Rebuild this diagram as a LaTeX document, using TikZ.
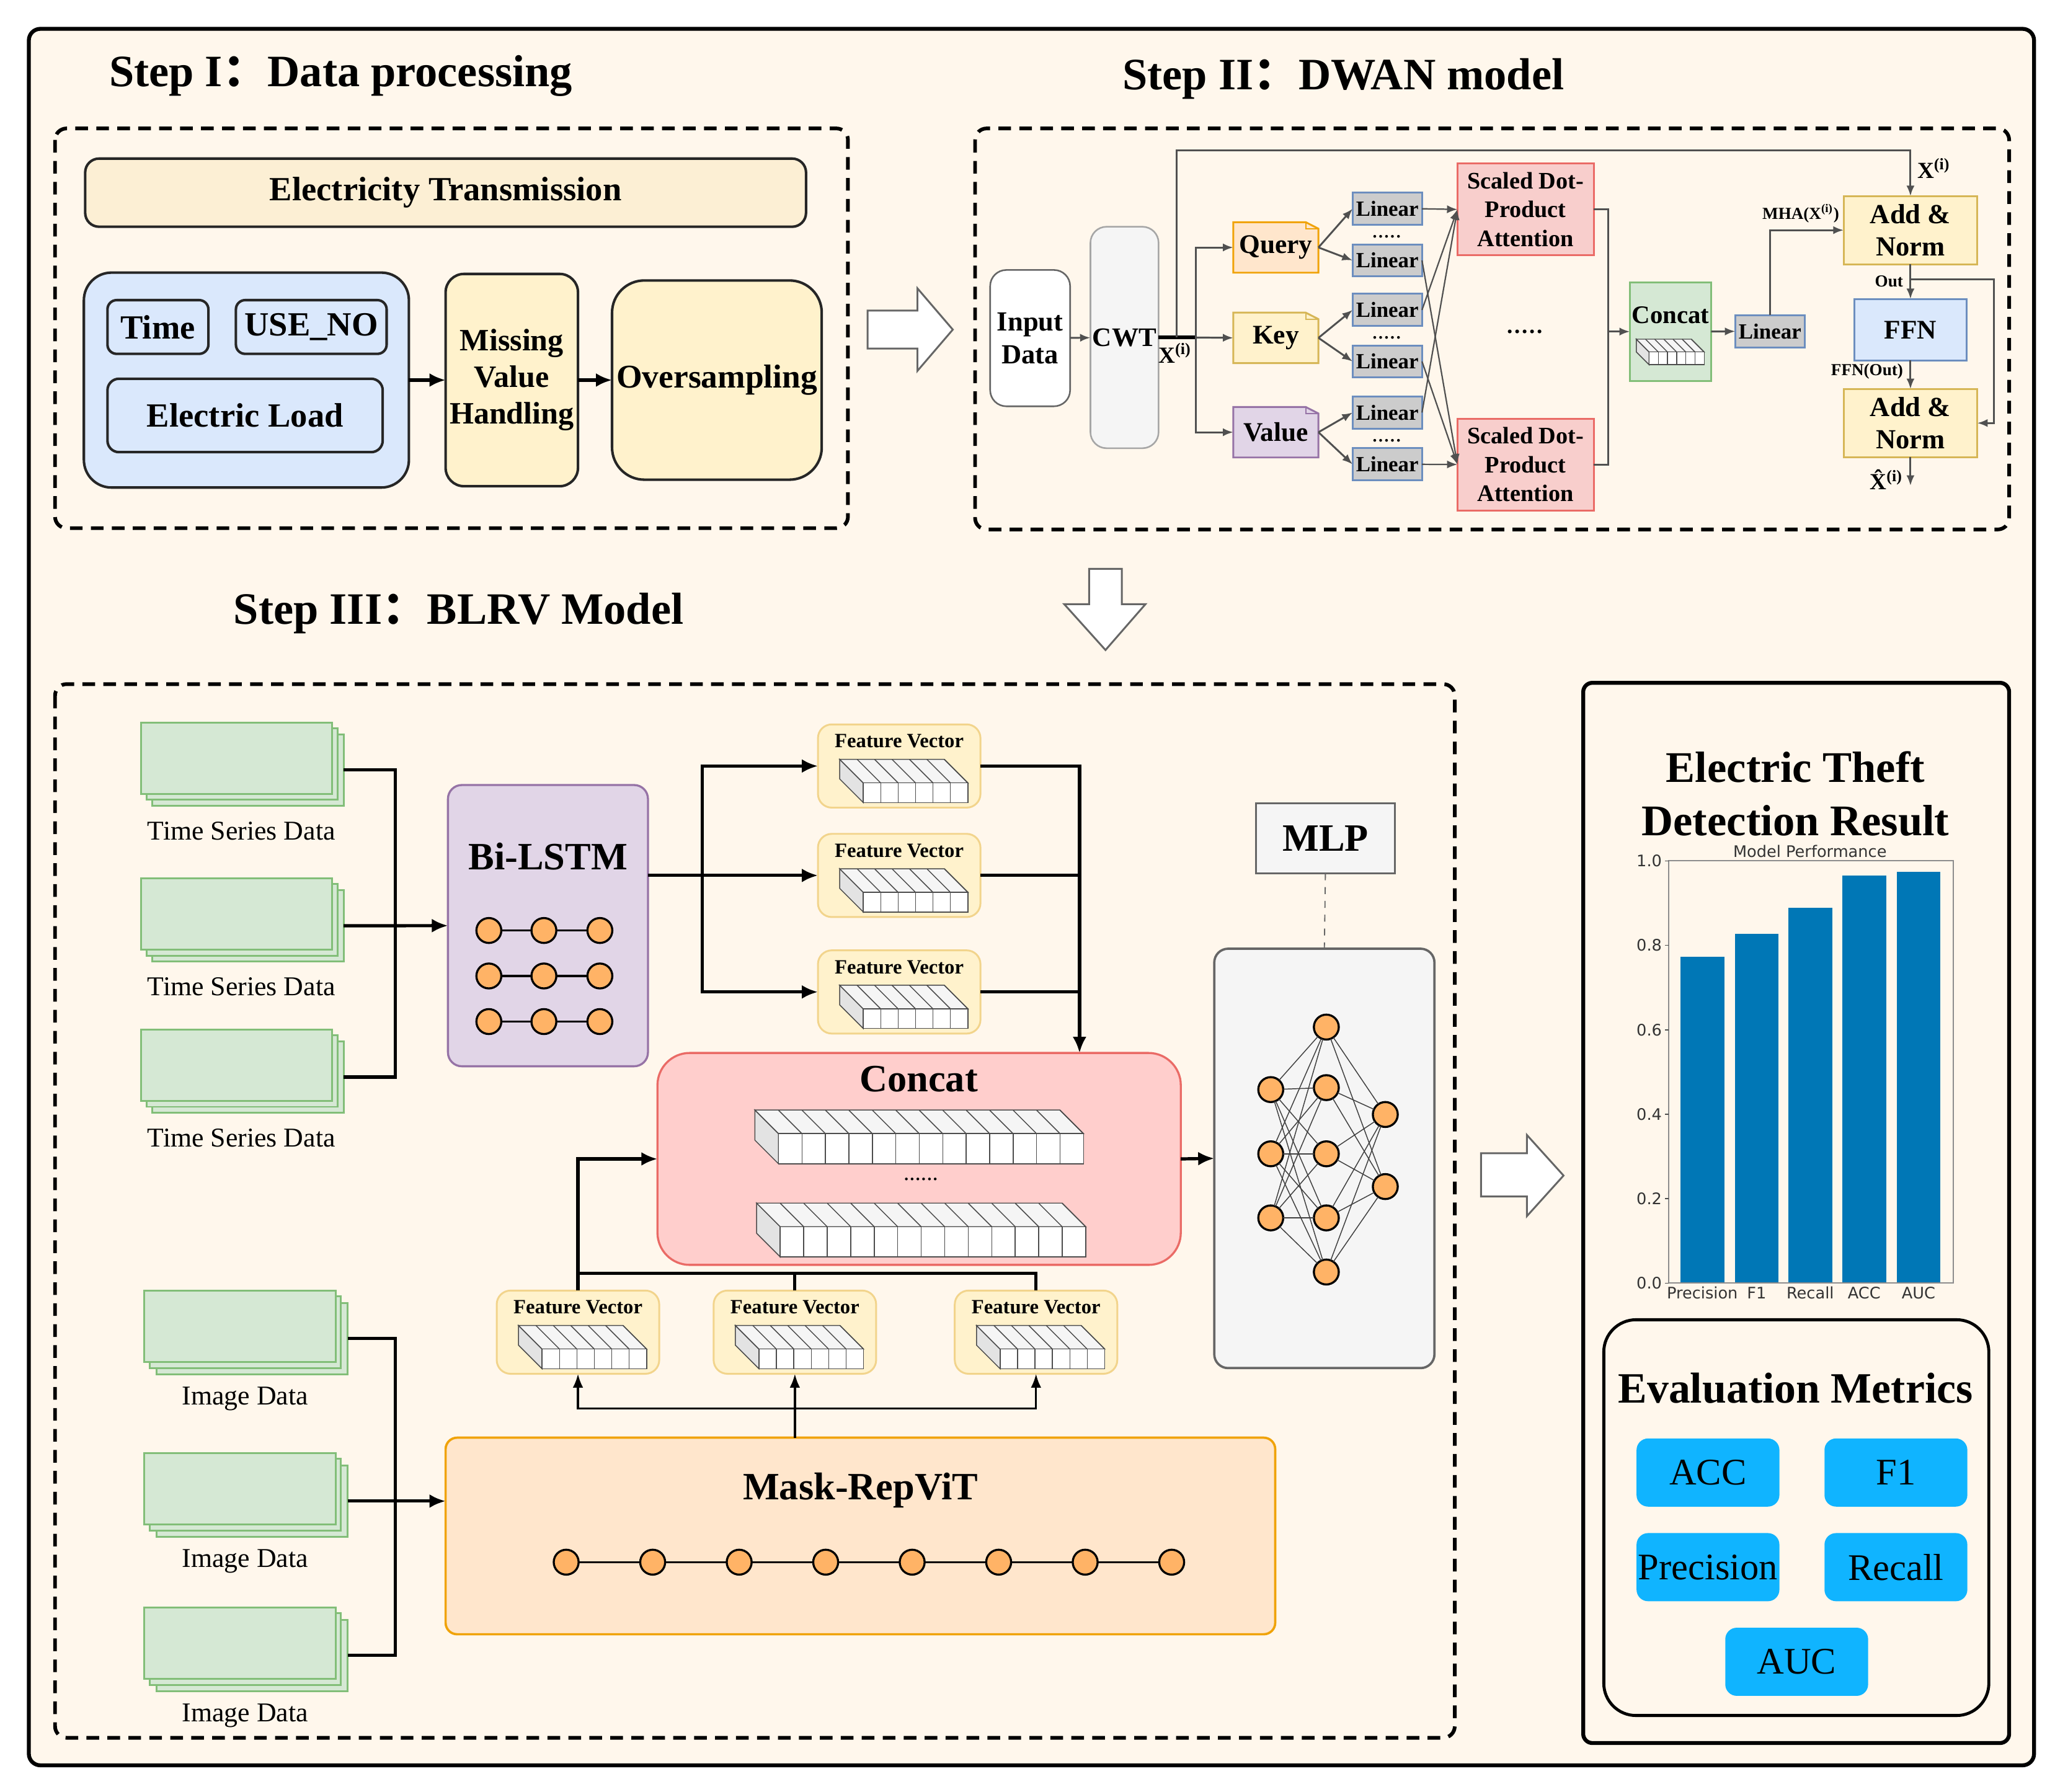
\documentclass[tikz,border=0pt]{standalone}
\usepackage{fontspec}
\setmainfont{Liberation Serif}
\newfontfamily\cjk{Noto Sans CJK SC}
\newfontfamily\plotfont{DejaVu Sans}
\usetikzlibrary{positioning,calc,arrows.meta}

\definecolor{bgcream}{RGB}{255,247,236}
\definecolor{etfill}{RGB}{252,239,212}
\definecolor{ylwfill}{RGB}{255,242,204}
\definecolor{ylwdraw}{RGB}{214,182,86}
\definecolor{bluefill}{RGB}{218,232,252}
\definecolor{bluedraw}{RGB}{108,142,191}
\definecolor{orgfill}{RGB}{255,230,204}
\definecolor{orgdraw}{RGB}{240,163,10}
\definecolor{purfill}{RGB}{225,213,231}
\definecolor{purdraw}{RGB}{150,115,166}
\definecolor{redfill}{RGB}{248,206,204}
\definecolor{reddraw}{RGB}{234,107,102}
\definecolor{grnfill}{RGB}{213,232,212}
\definecolor{grndraw}{RGB}{130,190,120}
\definecolor{greyfill}{RGB}{245,245,245}
\definecolor{greydraw}{RGB}{102,102,102}
\definecolor{linfill}{RGB}{204,204,204}
\definecolor{linkgrey}{RGB}{80,80,80}
\definecolor{pinkfill}{RGB}{255,206,204}
\definecolor{fvdraw}{RGB}{242,212,140}
\definecolor{neufill}{RGB}{255,179,102}
\definecolor{metfill}{RGB}{16,180,255}
\definecolor{barblue}{RGB}{0,119,182}

\newcommand{\pxu}{0.02cm}
\newcommand{\fsz}[2]{\fontsize{#1}{#2}\selectfont}
\newcommand{\fivedots}{.\kern0.7pt.\kern0.7pt.\kern0.7pt.\kern0.7pt.}

% stacked cells: front lower left (#1,#2), #3 cells, cell width #4, height #5, depth #6
\newcommand{\cellvec}[6]{%
  \filldraw[draw=black!70, fill=gray!22, line width=0.4pt] (#1,#2) -- (#1,#2-#5) -- (#1-#6,#2-#5-#6) -- (#1-#6,#2-#6) -- cycle;
  \filldraw[draw=black!70, fill=gray!8, line width=0.4pt] (#1,#2-#5) -- (#1+#3*#4,#2-#5) -- (#1+#3*#4-#6,#2-#5-#6) -- (#1-#6,#2-#5-#6) -- cycle;
  \foreach \k in {1,...,#3} {
    \filldraw[draw=black!70, fill=white, line width=0.4pt] (#1+\k*#4-#4,#2) rectangle (#1+\k*#4,#2-#5);
    \draw[black!70, line width=0.4pt] (#1+\k*#4,#2-#5) -- (#1+\k*#4-#6,#2-#5-#6);
  }
}
% feature vector box
\newcommand{\featvec}[3]{%
  \node[fvbox] (#1) at (#2,#3) {};
  \node[fvtxt] (#1t) at (#2,#3-19) {Feature Vector};
  \cellvec{#2-27.4}{#3+27.9}{6}{13.3}{15}{18}
}
% note outline with folded corner: centre (#1,#2), fill #3, border #4
\newcommand{\noteshape}[4]{%
  \filldraw[fill=#3, draw=#4, line width=0.8pt] (#1-32.5,#2-19.25) -- (#1+22.8,#2-19.25) -- (#1+32.5,#2-14.3) -- (#1+32.5,#2+19.25) -- (#1-32.5,#2+19.25) -- cycle;
  \draw[#4, line width=0.6pt] (#1+22.8,#2-19.25) -- (#1+22.8,#2-14.3) -- (#1+32.5,#2-14.3);
}

\begin{document}
\begin{tikzpicture}[x=0.02cm, y=-0.02cm,
    every node/.style={inner sep=0pt, outer sep=0pt},
    titletxt/.style={font={\bfseries\fsz{19.5}{23}}},
    dashframe/.style={draw, line width=1.6pt, dash pattern=on 5.5pt off 3.6pt, rounded corners=5pt},
    prebox/.style={draw=black!85, line width=1.1pt, rounded corners=6pt, align=center, font={\bfseries\fsz{14.7}{17}}},
    mbox/.style={draw=greydraw, line width=0.7pt, align=center, font={\bfseries\fsz{12}{14.2}}},
    qkvtxt/.style={minimum width=65*\pxu, minimum height=38.5*\pxu, font={\bfseries\fsz{11.7}{14}}},
    linbox/.style={draw=bluedraw, fill=linfill, line width=0.8pt, minimum width=53*\pxu, minimum height=24.5*\pxu, font={\bfseries\fsz{9.4}{11}}},
    sdpabox/.style={draw=reddraw, fill=redfill, line width=0.8pt, minimum width=104*\pxu, minimum height=70*\pxu, align=center, font={\bfseries\fsz{10.3}{12.5}}},
    anbox/.style={draw=ylwdraw, fill=ylwfill, line width=0.8pt, minimum width=102*\pxu, minimum height=52*\pxu, align=center, font={\bfseries\fsz{12}{14.2}}},
    dottxt/.style={font={\bfseries\fsz{7.5}{8}}},
    tinytxt/.style={font={\bfseries\fsz{7.3}{8}}},
    xlab/.style={font={\bfseries\fsz{10}{12}}},
    link/.style={draw=linkgrey, line width=0.8pt},
    arr/.style={link, -{Latex[length=4.5pt,width=3.5pt]}},
    medarr/.style={line width=0.9pt, -{Latex[length=6pt,width=4.5pt]}},
    thickarr/.style={line width=1.4pt, -{Latex[length=7pt,width=6pt]}},
    thickline/.style={line width=1.4pt},
    stackbox/.style={draw=grndraw, fill=grnfill, line width=0.8pt, minimum width=146*\pxu, minimum height=54.5*\pxu},
    datatxt/.style={font={\fsz{11.8}{14}}},
    fvbox/.style={draw=fvdraw, fill=ylwfill, line width=0.8pt, rounded corners=6pt, minimum width=124*\pxu, minimum height=63.5*\pxu},
    fvtxt/.style={font={\bfseries\fsz{8.8}{10}}},
    neuron/.style={circle, draw=black, fill=neufill, line width=0.9pt, minimum size=19*\pxu},
    bigtxt/.style={font={\bfseries\fsz{16.8}{20}}},
    metbox/.style={fill=metfill, rounded corners=5pt, minimum width=109*\pxu, minimum height=52*\pxu, font={\fsz{16.3}{19}}},
    plotlab/.style={font={\plotfont\fsz{6.9}{8}}, text=black!80},
    hollow/.style={draw=greydraw, fill=white, line width=0.8pt, line join=miter}
  ]
  % Canvas
  \fill[white] (0,0) rectangle (1568,1367);
  \useasboundingbox (0,0) rectangle (1568,1367);
  \draw[fill=bgcream, line width=1.7pt, rounded corners=5pt] (22,22) rectangle (1552,1347);

  % Step I
  \node[titletxt] (steponett) at (260,58) {Step I{\cjk ：}Data processing};
  \draw[dashframe] (42,98) rectangle (647,403);
  \node[prebox, fill=etfill, minimum width=550*\pxu, minimum height=52*\pxu] (etrans) at (340,147) {Electricity Transmission};
  \node[prebox, fill=bluefill, rounded corners=12pt, minimum width=248*\pxu, minimum height=164*\pxu] (rawdata) at (188,290) {};
  \node[prebox, fill=bluefill, rounded corners=4pt, minimum width=77*\pxu, minimum height=41*\pxu] (timef) at (120.5,249.5) {Time};
  \node[prebox, fill=bluefill, rounded corners=4pt, minimum width=115*\pxu, minimum height=41*\pxu] (usenof) at (237.5,249.5) {USE\_NO};
  \node[prebox, fill=bluefill, rounded corners=5pt, minimum width=210*\pxu, minimum height=56*\pxu] (loadf) at (187,317) {Electric Load};
  \node[prebox, fill=ylwfill, rounded corners=8pt, minimum width=101*\pxu, minimum height=162*\pxu, font={\bfseries\fsz{13.5}{15.9}}] (missing) at (390.5,290) {Missing\\Value\\Handling};
  \node[prebox, fill=ylwfill, rounded corners=14pt, minimum width=160*\pxu, minimum height=152*\pxu, font={\bfseries\fsz{14.4}{17}}] (oversamp) at (547,290) {Oversampling};
  \draw[thickarr] (rawdata) -- (missing);
  \draw[thickarr] (missing) -- (oversamp);

  % Step I to Step II
  \draw[hollow] (662,237) -- (700,237) -- (700,220) -- (727,251.5) -- (700,283) -- (700,266) -- (662,266) -- cycle;

  % Step II
  \node[titletxt] (steptwott) at (1025,60) {Step II{\cjk ：}DWAN model};
  \draw[dashframe] (744,98) rectangle (1533,404);
  \node[mbox, fill=white, rounded corners=7pt, minimum width=61*\pxu, minimum height=104*\pxu] (indata) at (786,258) {Input\\Data};
  \node[mbox, fill=greyfill, draw=black!35, rounded corners=7pt, minimum width=52*\pxu, minimum height=169*\pxu, font={\bfseries\fsz{11.6}{14}}] (cwt) at (858,257.5) {CWT};
  \draw[arr] (indata) -- (cwt);
  \coordinate (xsplit) at (897.6,257.5);
  \coordinate (qkvsplit) at (912.5,257.5);
  \noteshape{973.5}{188.8}{orgfill}{orgdraw}
  \noteshape{973.5}{257.8}{ylwfill}{ylwdraw}
  \noteshape{973.5}{329.8}{purfill}{purdraw}
  \node[qkvtxt] (query) at (973.5,188.8) {Query};
  \node[qkvtxt] (key) at (973.5,257.8) {Key};
  \node[qkvtxt] (value) at (973.5,329.8) {Value};
  \draw[link, line width=1.6pt, black] (cwt.east) -- (qkvsplit);
  \draw[arr] (qkvsplit) -- (key.west);
  \draw[arr] (qkvsplit) |- (query.west);
  \draw[arr] (qkvsplit) |- (value.west);
  \node[xlab, anchor=north west] (xilab) at (884,262) {X\textsuperscript{(i)}};

  % Linear projections
  \node[linbox] (lin1) at (1058.5,159.3) {Linear};
  \node[linbox] (lin2) at (1058.5,198.7) {Linear};
  \node[linbox] (lin3) at (1058.5,236.5) {Linear};
  \node[linbox] (lin4) at (1058.5,275.8) {Linear};
  \node[linbox] (lin5) at (1058.5,314.8) {Linear};
  \node[linbox] (lin6) at (1058.5,354.3) {Linear};
  \node[dottxt] (lindots1) at (1058,180.5) {\fivedots};
  \node[dottxt] (lindots2) at (1058,257.5) {\fivedots};
  \node[dottxt] (lindots3) at (1058,336) {\fivedots};
  \draw[arr] (query.east) -- (lin1.west);
  \draw[arr] (query.east) -- (lin2.west);
  \draw[arr] (key.east) -- (lin3.west);
  \draw[arr] (key.east) -- (lin4.west);
  \draw[arr] (value.east) -- (lin5.west);
  \draw[arr] (value.east) -- (lin6.west);

  % Attention heads
  \node[sdpabox] (sdpa1) at (1164,159.8) {Scaled Dot-\\Product\\Attention};
  \node[sdpabox] (sdpa2) at (1164,354.4) {Scaled Dot-\\Product\\Attention};
  \node[font={\bfseries\fsz{10}{12}}] (sddots) at (1163.5,253) {\fivedots};
  \foreach \l in {1,3,5} \draw[arr, line width=0.6pt] (lin\l.east) -- (sdpa1.west);
  \foreach \l in {2,4,6} \draw[arr, line width=0.6pt] (lin\l.east) -- (sdpa2.west);
  \coordinate (sdjoin) at (1227.2,253);
  \draw[link] (sdpa1.east) -| (sdjoin);
  \draw[link] (sdpa2.east) -| (sdjoin);
  \node[draw=grndraw, fill=grnfill, line width=0.8pt, minimum width=62*\pxu, minimum height=75.3*\pxu] (catqkv) at (1274.6,253) {};
  \draw[arr] (sdjoin) -- (catqkv.west);
  \node[font={\bfseries\fsz{11}{13}}] (catqkvt) at (1274.6,240.3) {Concat};
  \cellvec{1258.3}{278.3}{6}{7}{9.7}{9.8}
  \node[linbox] (linout) at (1350.5,252.8) {Linear};
  \draw[arr] (catqkv.east) -- (linout.west);

  % Add & Norm, FFN
  \node[anbox] (addnorm1) at (1457.7,175.6) {Add \&\\Norm};
  \node[draw=bluedraw, fill=bluefill, line width=0.8pt, minimum width=86*\pxu, minimum height=47*\pxu, font={\bfseries\fsz{11.7}{14}}] (ffn) at (1457.7,251.6) {FFN};
  \node[anbox] (addnorm2) at (1457.7,322.8) {Add \&\\Norm};
  \draw[arr] (linout.north) |- (addnorm1.west);
  \node[tinytxt, anchor=south] (mhalab) at (1374,170) {MHA(X\textsuperscript{(i)})};
  \draw[arr] (xsplit) -- (897.6,114.5) -| (addnorm1.north);
  \node[xlab, anchor=west] (xitop) at (1463,128.5) {X\textsuperscript{(i)}};
  \draw[arr] (addnorm1.south) -- (ffn.north);
  \coordinate (outsplit) at (1457.7,213.2);
  \draw[arr] (outsplit) -- (1521.5,213.2) |- (addnorm2.east);
  \node[tinytxt, anchor=east] (outlab) at (1452,214.6) {Out};
  \draw[arr] (ffn.south) -- (addnorm2.north);
  \node[tinytxt, anchor=east] (ffnlab) at (1452,283.4) {FFN(Out)};
  \coordinate (xhatend) at (1457.7,370.6);
  \draw[arr] (addnorm2.south) -- (xhatend);
  \node[xlab, anchor=east] (xhatlab) at (1452,366) {\^{X}\textsuperscript{(i)}};

  % Step II to Step III
  \draw[hollow] (831,434) -- (856,434) -- (856,461) -- (874,461) -- (843.5,496) -- (812,461) -- (831,461) -- cycle;

  % Step III
  \node[titletxt] (stepthreett) at (350,468) {Step III{\cjk ：}BLRV Model};
  \draw[dashframe] (42,522) rectangle (1110,1326);

  % Time series inputs
  \foreach \n/\yc in {1/578.5,2/697.4,3/812.8}{
    \node[stackbox] (tsc\n) at (189.2,\yc+9) {};
    \node[stackbox] (tsb\n) at (184.8,\yc+4.5) {};
    \node[stackbox] (ts\n) at (180.5,\yc) {};
    \node[datatxt] (tsl\n) at (184.2,\yc+55.5) {Time Series Data};
  }
  \coordinate (tsjoin) at (301.6,706.4);
  \draw[thickline] (tsc1.east) -| (tsjoin);
  \draw[thickline] (tsc3.east) -| (tsjoin);

  % Bi-LSTM
  \node[draw=purdraw, fill=purfill, line width=0.9pt, rounded corners=6pt, minimum width=152.6*\pxu, minimum height=214.6*\pxu] (bilstm) at (418.1,706.3) {};
  \draw[thickarr] (tsc2.east) -- (bilstm.west);
  \node[bigtxt] (bilstmt) at (418.1,653.5) {Bi-LSTM};
  \foreach \r/\yy in {1/710,2/744.7,3/779.5}{
    \foreach \c/\xx in {1/373,2/415,3/457.7} \node[neuron] (bl\r\c) at (\xx,\yy) {};
    \draw[line width=0.9pt] (bl\r1) -- (bl\r2) (bl\r2) -- (bl\r3);
  }

  % Sequence features
  \featvec{fv1}{686.1}{584.5}
  \featvec{fv2}{686.1}{668}
  \featvec{fv3}{686.1}{756.9}
  \coordinate (fvsplit) at (536,668);
  \draw[thickline] (bilstm.east |- fvsplit) -- (fvsplit);
  \draw[thickarr] (fvsplit) -- (fv2.west);
  \draw[thickarr] (fvsplit) |- (fv1.west);
  \draw[thickarr] (fvsplit) |- (fv3.west);

  % Concat
  \node[draw=reddraw, fill=pinkfill, line width=0.9pt, rounded corners=14pt, minimum width=399.3*\pxu, minimum height=161.7*\pxu] (concat) at (701.3,884.3) {};
  \node[bigtxt] (concatt) at (701,823.3) {Concat};
  \cellvec{594}{888}{13}{17.9}{23}{18}
  \node[font={\fsz{10}{12}}] (catdots) at (702.6,900) {......};
  \cellvec{595.3}{959}{13}{17.93}{23}{18}
  \coordinate (fvcol) at (823.7,803.45);
  \draw[thickarr] (fv1.east) -| (fvcol);
  \draw[thickline] (fv2.east) -- (fv2.east -| fvcol);
  \draw[thickline] (fv3.east) -- (fv3.east -| fvcol);

  % Image features
  \featvec{fv4}{441}{1016.5}
  \featvec{fv5}{606.5}{1016.5}
  \featvec{fv6}{790.5}{1016.5}
  \draw[thickarr] (fv4.north) |- (concat.west);
  \draw[thickline] (fv6.north) -- ++(0,-13) -| (fv4.north);
  \draw[thickline] (fv5.north) -- ++(0,-13);

  % Mask-RepViT
  \node[draw=orgdraw, fill=orgfill, line width=1pt, rounded corners=5pt, minimum width=633*\pxu, minimum height=150*\pxu] (maskrep) at (656.5,1172) {};
  \node[bigtxt] (maskrept) at (656.5,1137) {Mask-RepViT};
  \foreach \xx [count=\i] in {432,498,564,630,696,762,828,894} \node[neuron] (mrn\i) at (\xx,1192) {};
  \foreach \i [evaluate=\i as \j using int(\i+1)] in {1,...,7} \draw[line width=0.9pt] (mrn\i) -- (mrn\j);
  \coordinate (mrbus) at (606.5,1074.8);
  \draw[medarr] (maskrep.north -| mrbus) -- (fv5.south);
  \draw[medarr] (mrbus) -| (fv4.south);
  \draw[medarr] (mrbus) -| (fv6.south);

  % Image inputs
  \foreach \n/\yc in {1/1012,2/1136,3/1253.8}{
    \node[stackbox] (imgc\n) at (192.3,\yc+9.4) {};
    \node[stackbox] (imgb\n) at (187.2,\yc+4.5) {};
    \node[stackbox] (img\n) at (183,\yc) {};
    \node[datatxt] (imgl\n) at (187,\yc+55.3) {Image Data};
  }
  \coordinate (imjoin) at (301.6,1145.4);
  \draw[thickline] (imgc1.east) -| (imjoin);
  \draw[thickline] (imgc3.east) -| (imjoin);
  \draw[thickarr] (imgc2.east) -- (imgc2.east -| maskrep.west);

  % MLP
  \node[draw=greydraw, fill=greyfill, line width=0.9pt, minimum width=106*\pxu, minimum height=53.3*\pxu, bigtxt] (mlplab) at (1011.3,639.7) {MLP};
  \node[draw=greydraw, fill=greyfill, line width=1pt, rounded corners=6pt, minimum width=168*\pxu, minimum height=320*\pxu] (mlpbox) at (1010.5,883.9) {};
  \draw[dashed, greydraw, line width=0.5pt] (mlplab.south) -- (mlpbox.north);
  \draw[thickarr] (concat.east) -- (mlpbox.west);
  \foreach \i/\yy in {1/831.4,2/880.4,3/929.3} \node[neuron] (mlpin\i) at (969.6,\yy) {};
  \foreach \i/\yy in {1/783.7,2/829.9,3/880.4,4/929.3,5/970.6} \node[neuron] (mlphd\i) at (1012,\yy) {};
  \foreach \i/\yy in {1/850.4,2/905.4} \node[neuron] (mlpout\i) at (1057,\yy) {};
  \foreach \a in {1,2,3} \foreach \b in {1,...,5} \draw[black!75, line width=0.4pt] (mlpin\a) -- (mlphd\b);
  \foreach \a in {1,...,5} \foreach \b in {1,2} \draw[black!75, line width=0.4pt] (mlphd\a) -- (mlpout\b);

  % Step III to result
  \draw[hollow] (1130,880) -- (1165,880) -- (1165,866) -- (1193,897) -- (1165,928) -- (1165,913) -- (1130,913) -- cycle;

  % Result
  \node[draw=black, line width=1.7pt, rounded corners=4pt, minimum width=325*\pxu, minimum height=809*\pxu] (result) at (1370.5,925.5) {};
  \node[font={\bfseries\fsz{19}{23.2}}, align=center] (resultt) at (1370,605.5) {Electric Theft\\Detection Result};
  \node[plotlab] (plottitle) at (1381,649.8) {Model Performance};
  \foreach \lab/\xc/\val [count=\i] in {Precision/1298.9/0.773, F1/1340.4/0.827, Recall/1381.2/0.889, ACC/1422.4/0.966, AUC/1463.9/0.974}{
    \fill[barblue] (\xc-16.7,979.1) rectangle (\xc+16.7,979.1-\val*322.2);
    \node[plotlab, anchor=north] (xtick\i) at (\xc,982) {\lab};
  }
  \draw[black!45, line width=0.5pt] (1273.2,656.9) rectangle (1490.4,979.1);
  \foreach \v [count=\i] in {0.0,0.2,0.4,0.6,0.8,1.0}{
    \draw[black!70, line width=0.4pt] (1273.2,979.1-\v*322.2) -- ++(-3,0);
    \node[plotlab, anchor=east] (ytick\i) at (1268,979.1-\v*322.2) {\v};
  }

  % Evaluation metrics
  \node[draw=black, line width=1.3pt, rounded corners=14pt, minimum width=293.8*\pxu, minimum height=302*\pxu] (metrics) at (1370.6,1158) {};
  \node[font={\bfseries\fsz{18.8}{22}}] (metricst) at (1370,1059) {Evaluation Metrics};
  \node[metbox] (macc) at (1303.2,1123.6) {ACC};
  \node[metbox] (mfone) at (1446.6,1123.6) {F1};
  \node[metbox] (mprec) at (1303.2,1195.8) {Precision};
  \node[metbox] (mrec) at (1446.6,1195.8) {Recall};
  \node[metbox] (mauc) at (1370.9,1268) {AUC};
\end{tikzpicture}
\end{document}
